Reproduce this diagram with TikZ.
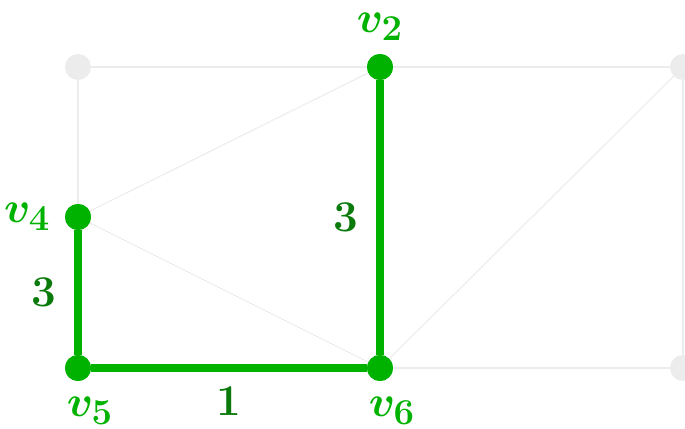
\documentclass[tikz,border=0pt]{standalone}
\usepackage{amsmath,amssymb}
\usepackage{xcolor}
\usetikzlibrary{positioning}
\definecolor{pathgreen}{RGB}{0,178,0}
\definecolor{wgtgreen}{RGB}{10,122,10}
\definecolor{fadegrey}{RGB}{236,236,236}
\tikzset{
  vtx/.style    = {circle, fill=fadegrey, inner sep=0pt, minimum size=5.2mm},
  vtxon/.style  = {circle, fill=pathgreen, inner sep=0pt, minimum size=5.2mm},
  vlab/.style   = {text=pathgreen, font=\fontsize{28}{32}\selectfont\boldmath, inner sep=0pt},
  faint/.style  = {draw=fadegrey, line width=0.6pt},
  tree/.style   = {draw=pathgreen, line width=4.6pt},
  wgt/.style    = {text=wgtgreen, font=\fontsize{25}{29}\selectfont\bfseries, inner sep=0pt},
}

\begin{document}
\begin{tikzpicture}
\useasboundingbox (0,0) rectangle (13.7,8.56);

% vertices
\node[vtx] (a) at (1.56,7.22) {};
\node[vtxon, label={[vlab, label distance=2.6mm]above:$v_2$}] (v2) at (7.6,7.22) {};
\node[vtx] (b) at (13.66,7.22) {};
\node[vtxon, label={[vlab, label distance=2.8mm]left:$v_4$}] (v4) at (1.56,4.22) {};
\node[vtxon, label={[vlab, label distance=3.0mm, xshift=2.4mm]below:$v_5$}] (v5) at (1.56,1.2) {};
\node[vtxon, label={[vlab, label distance=3.0mm, xshift=2.4mm]below:$v_6$}] (v6) at (7.6,1.2) {};
\node[vtx] (c) at (13.66,1.2) {};

% faint edges of the graph
\draw[faint] (a) -- (v2);
\draw[faint] (v2) -- (b);
\draw[faint] (a) -- (v4);
\draw[faint] (v4) -- (v2);
\draw[faint] (v4) -- (v6);
\draw[faint] (v6) -- (b);
\draw[faint] (v6) -- (c);
\draw[faint] (b) -- (c);

% chosen edges
\draw[tree] (v4) -- node[wgt, left=3.6mm] {3} (v5);
\draw[tree] (v5) -- node[wgt, below=2.9mm] {1} (v6);
\draw[tree] (v2) -- node[wgt, left=3.6mm] {3} (v6);

% redraw green vertices on top
\node[vtxon] at (v2) {};
\node[vtxon] at (v4) {};
\node[vtxon] at (v5) {};
\node[vtxon] at (v6) {};

\end{tikzpicture}
\end{document}
